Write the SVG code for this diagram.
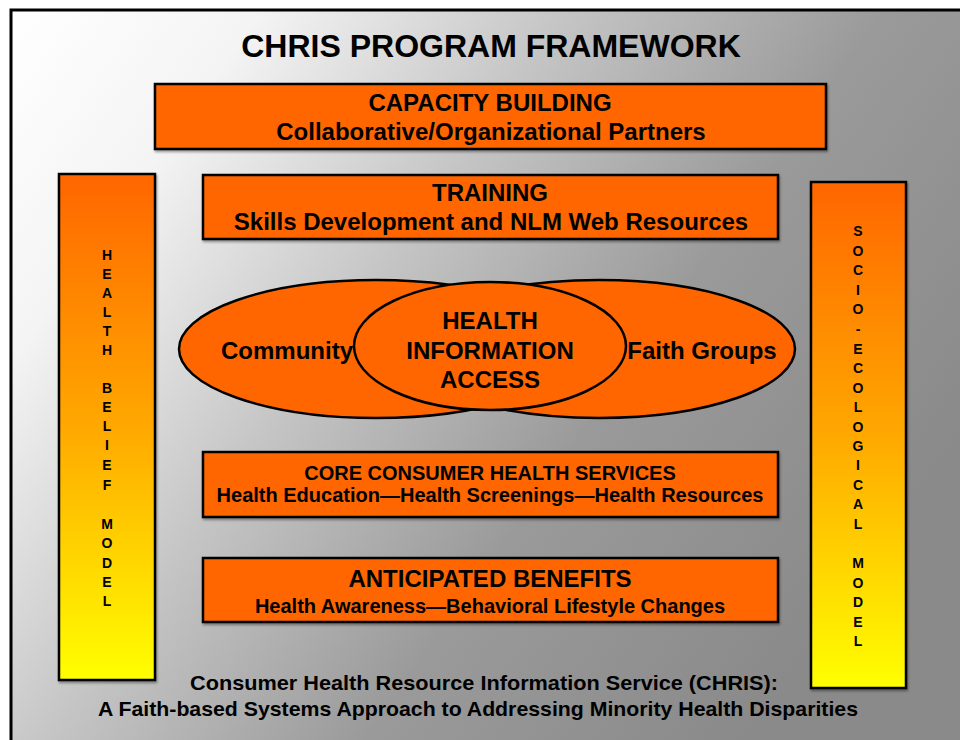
<svg xmlns="http://www.w3.org/2000/svg" width="960" height="740" viewBox="0 0 960 740">
<defs>
<linearGradient id="bg" x1="0" y1="0" x2="1" y2="0.55">
<stop offset="0" stop-color="#ffffff"/>
<stop offset="0.2" stop-color="#f4f4f4"/>
<stop offset="0.45" stop-color="#c4c4c4"/>
<stop offset="0.7" stop-color="#9a9a9a"/>
<stop offset="1" stop-color="#8a8a8a"/>
</linearGradient>
<linearGradient id="bar" x1="0" y1="0" x2="0" y2="1">
<stop offset="0" stop-color="#ff6600"/>
<stop offset="0.5" stop-color="#ffa800"/>
<stop offset="1" stop-color="#ffff00"/>
</linearGradient>
<filter id="sh" x="-5%" y="-5%" width="110%" height="115%">
<feDropShadow dx="1" dy="2" stdDeviation="1.2" flood-color="#000" flood-opacity="0.35"/>
</filter>
</defs>
<style>
.box{fill:#ff6600;stroke:#000;stroke-width:2.5}
.bar{fill:url(#bar);stroke:#000;stroke-width:2.5}
.ell{fill:#ff6600;stroke:#000;stroke-width:2.5}
text{font-family:"Liberation Sans",Arial,sans-serif;font-weight:bold;fill:#000;text-anchor:middle}
.t24{font-size:24px}
.t20{font-size:20px}
.vl{font-size:14px}
</style>
<rect x="0" y="0" width="960" height="740" fill="#ffffff"/>
<rect x="11" y="10" width="960" height="740" fill="url(#bg)" stroke="#000" stroke-width="3"/>
<text x="491" y="57" style="font-size:32px">CHRIS PROGRAM FRAMEWORK</text>

<g id="capacity">
<rect class="box" x="155" y="84" width="671" height="65" filter="url(#sh)"/>
<text class="t24" x="490" y="111">CAPACITY BUILDING</text>
<text class="t24" x="491" y="140">Collaborative/Organizational Partners</text>
</g>

<g id="training">
<rect class="box" x="203" y="175" width="575" height="64" filter="url(#sh)"/>
<text class="t24" x="490" y="201">TRAINING</text>
<text class="t24" x="491" y="230">Skills Development and NLM Web Resources</text>
</g>

<g id="health-belief-model">
<rect class="bar" x="59" y="174" width="96" height="506" filter="url(#sh)"/>
<text class="vl"><tspan x="107" y="260">H</tspan><tspan x="107" y="279">E</tspan><tspan x="107" y="298">A</tspan><tspan x="107" y="317">L</tspan><tspan x="107" y="336">T</tspan><tspan x="107" y="355">H</tspan><tspan x="107" y="393">B</tspan><tspan x="107" y="412">E</tspan><tspan x="107" y="431">L</tspan><tspan x="107" y="450">I</tspan><tspan x="107" y="470">E</tspan><tspan x="107" y="490">F</tspan><tspan x="107" y="529">M</tspan><tspan x="107" y="548">O</tspan><tspan x="107" y="568">D</tspan><tspan x="107" y="587">E</tspan><tspan x="107" y="606">L</tspan></text>
</g>

<g id="socio-ecological-model">
<rect class="bar" x="811" y="182" width="95" height="506" filter="url(#sh)"/>
<text class="vl"><tspan x="858" y="236">S</tspan><tspan x="858" y="256">O</tspan><tspan x="858" y="275">C</tspan><tspan x="858" y="295">I</tspan><tspan x="858" y="314">O</tspan><tspan x="858" y="334">-</tspan><tspan x="858" y="354">E</tspan><tspan x="858" y="373">C</tspan><tspan x="858" y="393">O</tspan><tspan x="858" y="412">L</tspan><tspan x="858" y="432">O</tspan><tspan x="858" y="451">G</tspan><tspan x="858" y="470">I</tspan><tspan x="858" y="490">C</tspan><tspan x="858" y="509">A</tspan><tspan x="858" y="529">L</tspan><tspan x="858" y="568">M</tspan><tspan x="858" y="588">O</tspan><tspan x="858" y="607">D</tspan><tspan x="858" y="627">E</tspan><tspan x="858" y="646">L</tspan></text>
</g>

<g id="community">
<ellipse class="ell" cx="376" cy="349" rx="197" ry="69"/>
</g>
<g id="faith-groups">
<ellipse class="ell" cx="599" cy="349" rx="196" ry="69"/>
</g>
<g id="health-information-access">
<ellipse class="ell" cx="490" cy="346" rx="136" ry="64"/>
<text class="t24" x="490" y="329">HEALTH</text>
<text class="t24" x="490" y="359">INFORMATION</text>
<text class="t24" x="490" y="388">ACCESS</text>
</g>
<text class="t24" x="287" y="359">Community</text>
<text class="t24" x="702" y="359">Faith Groups</text>

<g id="core-services">
<rect class="box" x="203" y="452" width="575" height="65" filter="url(#sh)"/>
<text class="t20" x="490" y="480">CORE CONSUMER HEALTH SERVICES</text>
<text class="t20" x="490" y="502">Health Education—Health Screenings—Health Resources</text>
</g>

<g id="anticipated-benefits">
<rect class="box" x="203" y="558" width="575" height="64" filter="url(#sh)"/>
<text class="t24" x="490" y="587">ANTICIPATED BENEFITS</text>
<text class="t20" x="490" y="613">Health Awareness—Behavioral Lifestyle Changes</text>
</g>

<g id="connectors"></g>

<text class="t20" x="484" y="690" style="font-size:21px" textLength="588" lengthAdjust="spacingAndGlyphs">Consumer Health Resource Information Service (CHRIS):</text>
<text class="t20" x="478" y="716" style="font-size:21px" textLength="760" lengthAdjust="spacingAndGlyphs">A Faith-based Systems Approach to Addressing Minority Health Disparities</text>
</svg>
